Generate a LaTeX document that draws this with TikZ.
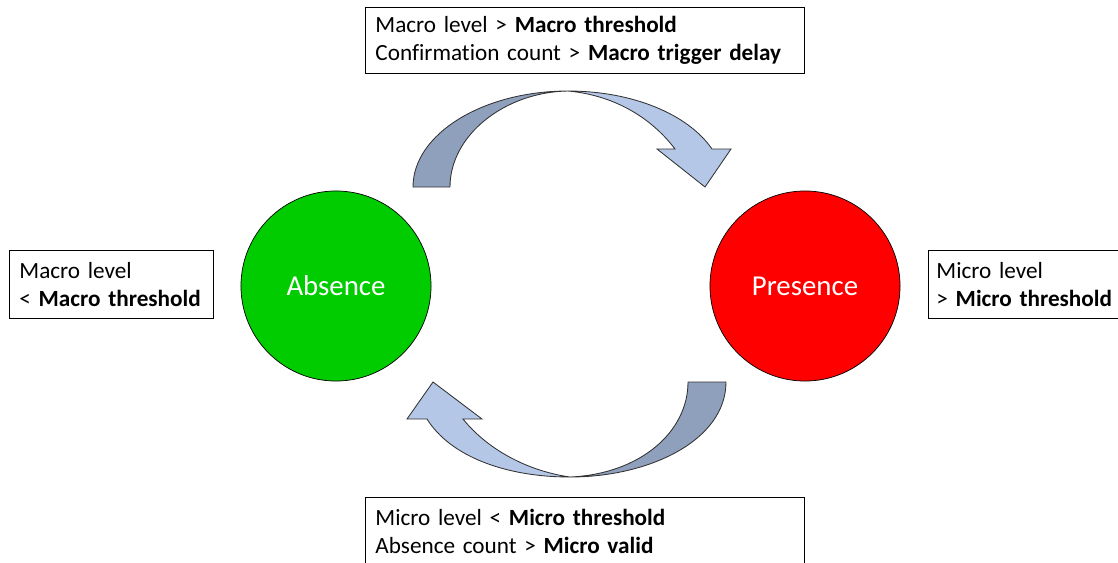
\documentclass[tikz,border=0pt]{standalone}
\usepackage{fontspec}
\setmainfont{Carlito}[Ligatures=NoCommon]
\usetikzlibrary{positioning}

\definecolor{absgreen}{RGB}{0,204,0}
\definecolor{presred}{RGB}{255,0,0}
\definecolor{arrowdark}{RGB}{143,160,189}
\definecolor{arrowlight}{RGB}{180,199,231}
\definecolor{edgegray}{RGB}{50,50,50}

\begin{document}
\begin{tikzpicture}[x=0.025cm, y=-0.025cm,
	condbox/.style={draw, line width=0.6pt, align=left, inner xsep=0.25cm, inner ysep=0pt,
		font=\fontsize{16.5}{19.8}\selectfont, anchor=north west},
	state/.style={circle, draw, line width=0.5pt, minimum size=4.75cm, text=white,
		font=\fontsize{20.5}{24}\selectfont},
	darkpart/.style={fill=arrowdark, draw=edgegray, line width=0.6pt, line join=round},
	lightpart/.style={fill=arrowlight, draw=edgegray, line width=0.6pt, line join=miter}]
	\useasboundingbox (0, 0) rectangle (1118, 562);

	\node[state, fill=absgreen] (absence) at (336, 286) {Absence};
	\node[state, fill=presred] (presence) at (805, 286) {Presence};

	\node[condbox, text width=10.475cm, minimum height=1.65cm] (toabs) at (365, 7)
		{Macro level > \textbf{Macro threshold}\\Confirmation count > \textbf{Macro trigger delay}};
	\node[condbox, text width=4.6cm, minimum height=1.7cm] (stayabs) at (9, 250)
		{Macro level\\< \textbf{Macro threshold}};
	\node[condbox, text width=4.4cm, inner xsep=0.2cm, minimum height=1.7cm] (staypres) at (928, 250)
		{Micro level\\> \textbf{Micro threshold}};
	\node[condbox, text width=10.475cm, minimum height=1.7cm] (topres) at (365, 497)
		{Micro level < \textbf{Micro threshold}\\Absence count > \textbf{Micro valid}};

	% upper arrow, absence -> presence
	\draw[darkpart] (413, 187) -- (450, 187) .. controls (450, 135) and (505, 92) .. (568, 91)
		.. controls (483, 91) and (413, 134) .. cycle;
	\draw[lightpart] (568, 91) .. controls (632, 91) and (688, 114) .. (712, 149) -- (731, 149)
		-- (705, 187) -- (657, 149) -- (675, 149) .. controls (650, 116) and (612, 95) .. cycle;

	% lower arrow, presence -> absence
	\draw[darkpart] (726, 382) -- (688, 382) .. controls (688, 432) and (640, 474) .. (570, 477)
		.. controls (650, 477) and (726, 440) .. cycle;
	\draw[lightpart] (570, 477) .. controls (505, 477) and (450, 456) .. (427, 419) -- (407, 419)
		-- (433, 382) -- (482, 419) -- (463, 419) .. controls (488, 450) and (528, 471) .. cycle;

\end{tikzpicture}
\end{document}
